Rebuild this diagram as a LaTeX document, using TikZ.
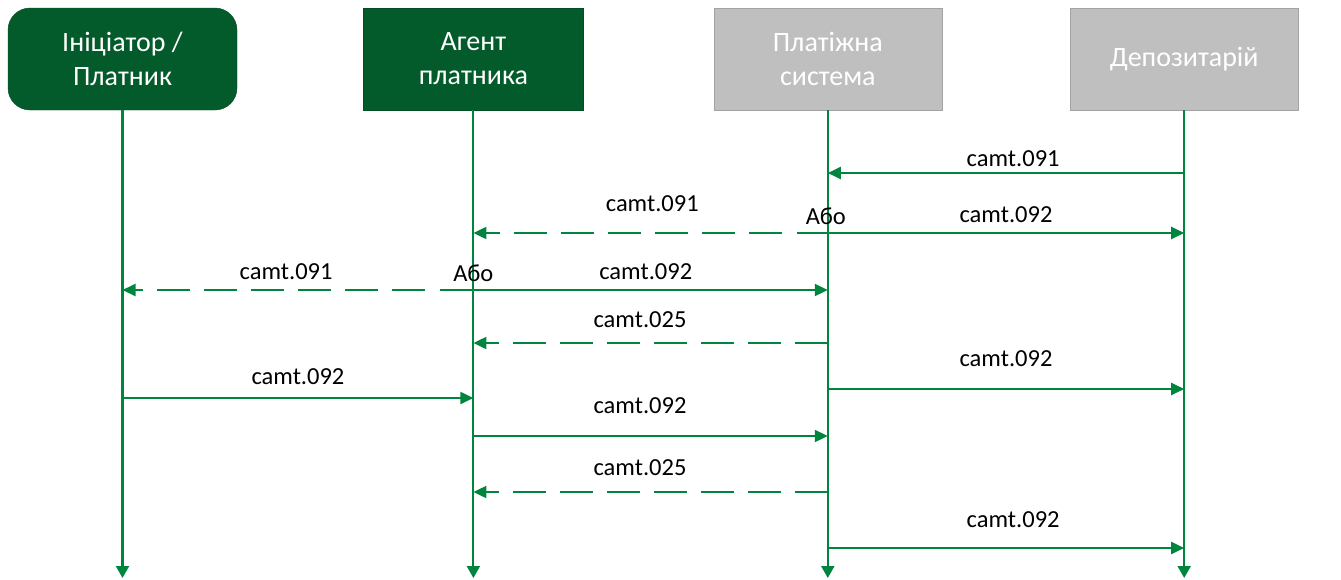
\documentclass[tikz,border=0pt]{standalone}
\usepackage{fontspec}
\setmainfont{Carlito}
\usepackage{xcolor}
\definecolor{payerDark}{HTML}{035B2B}
\definecolor{sysGray}{HTML}{BFBFBF}
\definecolor{sysEdge}{HTML}{A3A3A3}
\definecolor{flowGreen}{HTML}{00853F}
\usetikzlibrary{positioning,calc,arrows.meta}
\tikzset{%
  payerBox/.style={%
    rectangle,
    draw=payerDark!85!black,
    fill=payerDark,
    text=white,
    minimum width=220pt,
    minimum height=102pt,
    align=center,
    font=\fontsize{28}{34}\selectfont
  },
  systemBox/.style={%
    payerBox,
    draw=sysEdge,
    fill=sysGray,
    minimum width=228pt
  },
  lifeLine/.style={%
    -{Triangle[length=12pt,width=13pt]},
    line width=2.1pt,
    color=flowGreen
  },
  msgLine/.style={%
    -{Triangle[length=13pt,width=12pt]},
    line width=2pt,
    color=flowGreen
  },
  replyLine/.style={%
    msgLine,
    dash pattern=on 33pt off 14pt
  },
  msgLabel/.style={%
    inner sep=0pt,
    text=black,
    font=\fontsize{24.5}{28}\selectfont
  }
}

\begin{document}
\begin{tikzpicture}[x=1pt,y=-1pt]
  \useasboundingbox (0,0) rectangle (1341,579);

  % participants
  \node[payerBox, minimum width=229pt, rounded corners=22pt] (ini) at (122.5,59) {Ініціатор /\\Платник};
  \node[payerBox, right=126pt of ini] (agt) {Агент\\платника};
  \node[systemBox, right=130pt of agt] (pay) {Платіжна\\система};
  \node[systemBox, right=128pt of pay] (dep) {Депозитарій};

  % message rows on every lifeline
  \foreach \lane in {ini,agt,pay,dep} {
    \foreach \row/\yy in {r1/173,r2/233,r3/290,r4/343,r5/389,r6/398,r7/436,r8/492,r9/548,end/578} {
      \coordinate (\lane-\row) at (\lane.south |- 0,\yy);
    }
  }
  \coordinate (orA) at ($(pay-r2)+(-46,0)$);
  \coordinate (orB) at ($(pay-r2)+(-31,0)$);
  \coordinate (orC) at ($(agt-r3)+(-48,0)$);
  \coordinate (orD) at ($(agt-r3)+(-33,0)$);

  % lifelines
  \foreach \lane in {ini,agt,pay,dep}
    \draw[lifeLine] (\lane.south) -- (\lane-end);

  % messages
  \draw[msgLine] (dep-r1) -- node[msgLabel, pos=.48, above=5pt] {camt.091} (pay-r1);

  \draw[replyLine] (orA) -- node[msgLabel, pos=.42, above=20pt] {camt.091} (agt-r2);
  \draw[msgLine] (orB) -- node[msgLabel, pos=.54, above=9pt] {camt.092} (dep-r2);
  \node[msgLabel, above=8pt of pay-r2, xshift=-2pt] (orPay) {Або};

  \draw[replyLine] (orC) -- node[msgLabel, pos=.46, above=9pt] {camt.091} (ini-r3);
  \draw[msgLine] (orD) -- node[msgLabel, pos=.53, above=9pt] {camt.092} (pay-r3);
  \node[msgLabel, above=8.5pt of agt-r3] (orAgt) {Або};

  \draw[replyLine] (pay-r4) -- node[msgLabel, pos=.53, above=14pt] {camt.025} (agt-r4);
  \draw[msgLine] (pay-r5) -- node[msgLabel, pos=.5, above=21pt] {camt.092} (dep-r5);
  \draw[msgLine] (ini-r6) -- node[msgLabel, pos=.5, above=12pt] {camt.092} (agt-r6);
  \draw[msgLine] (agt-r7) -- node[msgLabel, pos=.47, above=21pt] {camt.092} (pay-r7);
  \draw[replyLine] (pay-r8) -- node[msgLabel, pos=.53, above=15pt] {camt.025} (agt-r8);
  \draw[msgLine] (pay-r9) -- node[msgLabel, pos=.52, above=19pt] {camt.092} (dep-r9);
\end{tikzpicture}
\end{document}
